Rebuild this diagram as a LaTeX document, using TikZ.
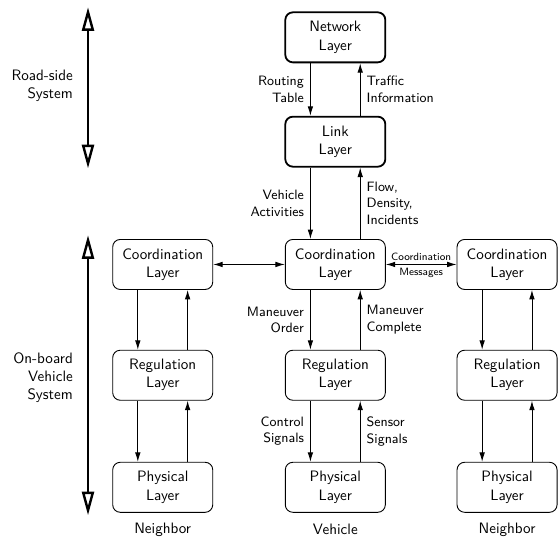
\documentclass[tikz,border=0pt]{standalone}
\usepackage{tikz}
\usetikzlibrary{arrows.meta,positioning}
\renewcommand{\familydefault}{\sfdefault}

\begin{document}
\begin{tikzpicture}[x=1cm,y=1cm,
  layer/.style={draw, rounded corners=5pt, line width=0.6pt, align=center,
    minimum width=2.33cm, minimum height=1.165cm, inner sep=1pt},
  toplayer/.style={layer, line width=1.2pt},
  flow/.style={line width=0.6pt, -{Latex[length=2.2mm,width=1.3mm]}},
  twoway/.style={line width=0.6pt, {Latex[length=2.2mm,width=1.3mm]}-{Latex[length=2.2mm,width=1.3mm]}},
  span/.style={line width=1.6pt, {Triangle[open,length=5.5mm,width=2.8mm]}-{Triangle[open,length=5.5mm,width=2.8mm]}},
  lbl/.style={font=\small, inner sep=4pt}]
  \def\xl{3.79}   % left column (neighbor)
  \def\xc{7.81}   % middle column (vehicle)
  \def\xr{11.81}  % right column (neighbor)
  \def\off{0.58}  % arrow offset from column centre

  \useasboundingbox (0,0) rectangle (13.02,12.54);

  % Road-side layers
  \node[toplayer] (net)  at (\xc,11.67) {Network\\Layer};
  \node[toplayer] (link) at (\xc,9.24)  {Link\\Layer};

  % Vehicle layers
  \node[layer] (ccoord) at (\xc,6.38) {Coordination\\Layer};
  \node[layer] (creg)   at (\xc,3.80) {Regulation\\Layer};
  \node[layer] (cphys)  at (\xc,1.19) {Physical\\Layer};

  % Neighbor layers
  \node[layer] (lcoord) at (\xl,6.38) {Coordination\\Layer};
  \node[layer] (lreg)   at (\xl,3.80) {Regulation\\Layer};
  \node[layer] (lphys)  at (\xl,1.19) {Physical\\Layer};
  \node[layer] (rcoord) at (\xr,6.38) {Coordination\\Layer};
  \node[layer] (rreg)   at (\xr,3.80) {Regulation\\Layer};
  \node[layer] (rphys)  at (\xr,1.19) {Physical\\Layer};

  % Column captions
  \node (lcap) at (\xl,0.21) {Neighbor};
  \node (ccap) at (\xc,0.21) {Vehicle};
  \node (rcap) at (\xr,0.21) {Neighbor};

  % Middle column arrows
  \draw[flow] ([xshift=-\off cm]net.south) -- ([xshift=-\off cm]link.north)
    node[lbl, midway, left, align=right] {Routing\\Table};
  \draw[flow] ([xshift=\off cm]link.north) -- ([xshift=\off cm]net.south)
    node[lbl, midway, right, align=left] {Traffic\\Information};
  \draw[flow] ([xshift=-\off cm]link.south) -- ([xshift=-\off cm]ccoord.north)
    node[lbl, midway, left, align=right] {Vehicle\\Activities};
  \draw[flow] ([xshift=\off cm]ccoord.north) -- ([xshift=\off cm]link.south)
    node[lbl, midway, right, align=left] {Flow,\\Density,\\Incidents};
  \draw[flow] ([xshift=-\off cm]ccoord.south) -- ([xshift=-\off cm]creg.north)
    node[lbl, midway, left, align=right] {Maneuver\\Order};
  \draw[flow] ([xshift=\off cm]creg.north) -- ([xshift=\off cm]ccoord.south)
    node[lbl, midway, right, align=left] {Maneuver\\Complete};
  \draw[flow] ([xshift=-\off cm]creg.south) -- ([xshift=-\off cm]cphys.north)
    node[lbl, midway, left, align=right] {Control\\Signals};
  \draw[flow] ([xshift=\off cm]cphys.north) -- ([xshift=\off cm]creg.south)
    node[lbl, midway, right, align=left] {Sensor\\Signals};

  % Neighbor column arrows
  \foreach \c in {l,r}{
    \draw[flow] ([xshift=-\off cm]\c coord.south) -- ([xshift=-\off cm]\c reg.north);
    \draw[flow] ([xshift=\off cm]\c reg.north) -- ([xshift=\off cm]\c coord.south);
    \draw[flow] ([xshift=-\off cm]\c reg.south) -- ([xshift=-\off cm]\c phys.north);
    \draw[flow] ([xshift=\off cm]\c phys.north) -- ([xshift=\off cm]\c reg.south);
  }

  % Vehicle to vehicle
  \draw[twoway] (lcoord) -- (ccoord);
  \draw[twoway] (ccoord) -- (rcoord)
    node[midway, above, font=\scriptsize, inner sep=2pt] {Coordination}
    node[midway, below, font=\scriptsize, inner sep=2pt] {Messages};

  % System spans
  \coordinate (rstop) at (2.05,12.37);
  \coordinate (rsbot) at (2.05,8.62);
  \coordinate (obtop) at (2.05,7.06);
  \coordinate (obbot) at (2.05,0.54);
  \draw[span] (rstop) -- (rsbot);
  \draw[span] (obtop) -- (obbot);
  \node[align=right, anchor=east] (rslbl) at (1.82,10.55) {Road-side\\System};
  \node[align=right, anchor=east] (oblbl) at (1.82,3.75) {On-board\\Vehicle\\System};
\end{tikzpicture}
\end{document}
